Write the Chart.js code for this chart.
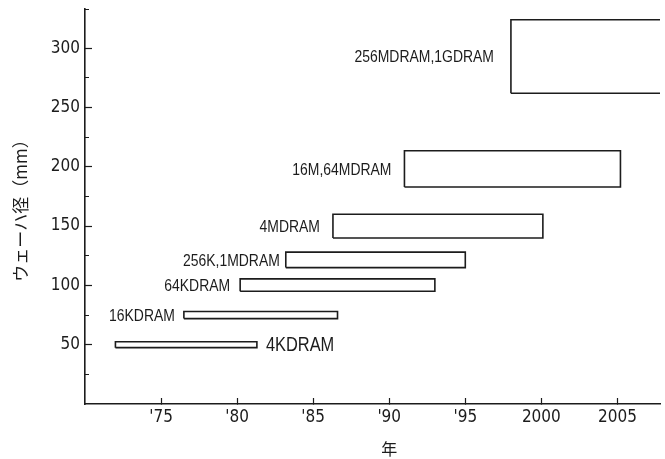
<!DOCTYPE html>
<html>
<head>
<meta charset="utf-8">
<script src="https://cdn.jsdelivr.net/npm/chart.js@4.4.1/dist/chart.umd.min.js"></script>
<style>
  html, body { margin: 0; padding: 0; background: #fff; }
  canvas { display: block; }
</style>
</head>
<body>
<canvas id="chart" width="665" height="459"></canvas>
<script>
// DRAM generations and the wafer diameter range used for each, by period
const memoryTypes  = ['4KDRAM', '16KDRAM', '64KDRAM', '256K,1MDRAM', '4MDRAM', '16M,64MDRAM', '256MDRAM,1GDRAM'];
const startYears   = [1972, 1976.5, 1980.2, 1983.2, 1986.3, 1991, 1998];
const endYears     = [1981.3, 1986.6, 1993, 1995, 2000.1, 2005.2, 2012];
const diameterLow  = [47.5, 72, 95, 115, 140, 183, 262];
const diameterHigh = [52.5, 78, 105.5, 128, 160, 213.5, 324];

// axis ticks
const yearTicks      = [1975, 1980, 1985, 1990, 1995, 2000, 2005];
const diameterTicks  = [50, 100, 150, 200, 250, 300];
const diameterMinor  = [25, 75, 125, 175, 225, 275, 333];

const INK = '#1c1c1c';
const TICKFONT = "'DejaVu Sans Condensed', 'DejaVu Sans'";
const LABELFONT = "'Liberation Sans', Arial, sans-serif";
const CJK = "'Noto Sans CJK JP', 'Noto Sans CJK SC', sans-serif";

// each generation is a closed rectangle: years across, diameter range up
const boxes = memoryTypes.map((name, i) => ({
  label: name,
  xAxisID: 'x',
  yAxisID: 'y',
  data: [
    { x: startYears[i], y: diameterLow[i] },
    { x: endYears[i],   y: diameterLow[i] },
    { x: endYears[i],   y: diameterHigh[i] },
    { x: startYears[i], y: diameterHigh[i] },
    { x: startYears[i], y: diameterLow[i] }
  ],
  showLine: true,
  fill: false,
  tension: 0,
  borderColor: INK,
  borderWidth: 1.6,
  borderJoinStyle: 'miter',
  pointRadius: 0,
  pointHoverRadius: 0
}));

// where each name sits relative to its rectangle
const labelLayout = [
  { side: 'right', gap: 9,  size: 20 },
  { side: 'left',  gap: 9,  size: 17 },
  { side: 'left',  gap: 10, size: 17 },
  { side: 'left',  gap: 6,  size: 17 },
  { side: 'left',  gap: 13, size: 17 },
  { side: 'left',  gap: 13, size: 17 },
  { side: 'left',  gap: 17, size: 17 }
];
const LABEL_SQUEEZE = 0.82;   // narrow lettering

const boxLabels = {
  id: 'boxLabels',
  afterDatasetsDraw(chart) {
    const { ctx, scales: { x, y } } = chart;
    ctx.save();
    ctx.fillStyle = INK;
    ctx.textBaseline = 'middle';
    memoryTypes.forEach((name, i) => {
      const L = labelLayout[i];
      const cy = y.getPixelForValue((diameterLow[i] + diameterHigh[i]) / 2) + 1;
      const left = L.side === 'left';
      const px = left ? x.getPixelForValue(startYears[i]) - L.gap
                      : x.getPixelForValue(endYears[i]) + L.gap;
      ctx.save();
      ctx.translate(px, cy);
      ctx.scale(LABEL_SQUEEZE, 1);
      ctx.font = L.size + 'px ' + LABELFONT;
      ctx.textAlign = left ? 'right' : 'left';
      ctx.fillText(name, 0, 0);
      ctx.restore();
    });
    // x-axis title, set under the '90 tick
    ctx.font = '16px ' + CJK;
    ctx.textAlign = 'center';
    ctx.fillText('年', x.getPixelForValue(1990), 449);
    ctx.restore();
  }
};

new Chart(document.getElementById('chart'), {
  type: 'scatter',
  data: { datasets: boxes },
  plugins: [boxLabels],
  options: {
    responsive: false,
    animation: false,
    devicePixelRatio: 1,
    layout: { padding: { top: 9, right: 5, left: 0, bottom: 0 } },
    plugins: {
      legend: { display: false },
      tooltip: { enabled: false }
    },
    scales: {
      x: {
        type: 'linear',
        position: 'bottom',
        min: 1970,
        max: 2007.8,
        afterFit(s) { s.height = 55; s.paddingLeft = 0; s.paddingRight = 0; },
        afterBuildTicks(s) { s.ticks = yearTicks.map(v => ({ value: v })); },
        ticks: {
          callback: v => (v >= 2000 ? String(v) : "'" + String(v).slice(2)),
          font: { family: TICKFONT, size: 17, style: 'normal condensed' },
          color: INK,
          padding: 9,
          maxRotation: 0,
          autoSkip: false
        },
        grid: { drawOnChartArea: false, tickLength: -6, tickColor: INK, tickWidth: 1.2 },
        border: { color: INK, width: 1.6 }
      },
      y: {
        type: 'linear',
        position: 'left',
        weight: 1,
        min: 0,
        max: 333,
        afterFit(s) { s.width = 85; s.paddingTop = 0; s.paddingBottom = 0; },
        afterBuildTicks(s) { s.ticks = diameterTicks.map(v => ({ value: v })); },
        ticks: {
          font: { family: TICKFONT, size: 17, style: 'normal condensed' },
          color: INK,
          padding: 12
        },
        grid: { drawOnChartArea: false, tickLength: -7, tickColor: INK, tickWidth: 1.2 },
        border: { color: INK, width: 1.6 },
        title: {
          display: true,
          text: 'ウェーハ径（mm）',
          font: { family: CJK, size: 17 },
          color: INK,
          padding: { top: 10, bottom: 0 }
        }
      },
      yMinor: {
        type: 'linear',
        position: 'left',
        weight: 0,
        min: 0,
        max: 333,
        afterFit(s) { s.width = 0; s.paddingTop = 0; s.paddingBottom = 0; },
        afterBuildTicks(s) { s.ticks = diameterMinor.map(v => ({ value: v })); },
        ticks: { display: false },
        grid: { drawOnChartArea: false, tickLength: -4, tickColor: INK, tickWidth: 1 },
        border: { display: false }
      }
    }
  }
});
</script>
</body>
</html>
